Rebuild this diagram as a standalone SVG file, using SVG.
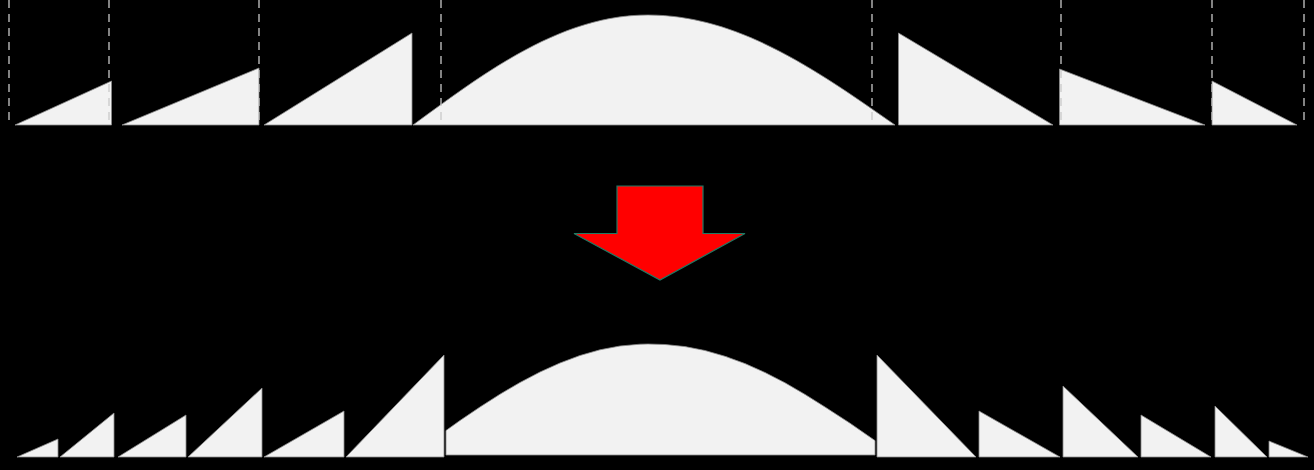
<svg xmlns="http://www.w3.org/2000/svg" width="1314" height="470" viewBox="0 0 1314 470">
  <style>
    .shape { fill: #f2f2f2; stroke: #8a8a8a; stroke-width: 0.8; stroke-linejoin: miter; }
    .guide { fill: none; stroke: #c8c8c8; stroke-width: 1.3; stroke-dasharray: 8 6; }
    .arrow { fill: #ff0000; stroke: #1f7a64; stroke-width: 1.2; stroke-linejoin: miter; }
  </style>
  <rect x="0" y="0" width="1314" height="470" fill="#000000"/>

  <!-- Top row -->
  <g id="top-row">
    <g id="top-t1"><polygon class="shape" points="15,125 111.5,125 111.5,81"/></g>
    <g id="top-t2"><polygon class="shape" points="122,125 259,125 259,68"/></g>
    <g id="top-t3"><polygon class="shape" points="264,125 412,125 412,33"/></g>
    <g id="top-bell"><path class="shape" d="M413,125 C489.6,68.6 563,15 648,15 C737.4,15 814.5,68.6 895,125 Z"/></g>
    <g id="top-t5"><polygon class="shape" points="898.5,125 898.5,33 1053,125"/></g>
    <g id="top-t6"><polygon class="shape" points="1059.5,125 1059.5,69 1205,125"/></g>
    <g id="top-t7"><polygon class="shape" points="1212,125 1212,81 1297,125"/></g>
  </g>

  <!-- Dashed cut guides -->
  <g id="guides">
    <line class="guide" x1="9" y1="0" x2="9" y2="122"/>
    <line class="guide" x1="109" y1="0" x2="109" y2="122"/>
    <line class="guide" x1="259" y1="0" x2="259" y2="122"/>
    <line class="guide" x1="441" y1="0" x2="441" y2="122"/>
    <line class="guide" x1="872" y1="0" x2="872" y2="122"/>
    <line class="guide" x1="1061" y1="0" x2="1061" y2="122"/>
    <line class="guide" x1="1212" y1="0" x2="1212" y2="122"/>
    <line class="guide" x1="1304" y1="0" x2="1304" y2="122"/>
  </g>

  <!-- Block arrow -->
  <g id="connectors">
    <polygon class="arrow" points="617,186 703,186 703,233.5 745,233.5 660,280 574,233.5 617,233.5"/>
  </g>

  <!-- Bottom row -->
  <g id="bottom-row">
    <g id="bot-t1"><polygon class="shape" points="17,457 58,457 58,439"/></g>
    <g id="bot-t2"><polygon class="shape" points="60,457 114,457 114,413"/></g>
    <g id="bot-t3"><polygon class="shape" points="118,457 186,457 186,415"/></g>
    <g id="bot-t4"><polygon class="shape" points="188,457 262,457 262,388"/></g>
    <g id="bot-t5"><polygon class="shape" points="264,457 344,457 344,411"/></g>
    <g id="bot-t6"><polygon class="shape" points="346,457 444,457 444,355"/></g>
    <g id="bot-bell"><polygon class="shape" points="446,455 446,430.5 460,420.5 480,407 500,394.2 520,382.5 540,372 560,363 580,355.5 600,349.8 620,346 640,344.2 648,344 665,344.5 685,346.6 705,350.5 725,356.3 745,363.6 765,372.5 785,382.8 805,394.4 825,407 850,423.2 875,440.6 875,455"/></g>
    <g id="bot-t7"><polygon class="shape" points="877,457 877,355 976,457"/></g>
    <g id="bot-t8"><polygon class="shape" points="979,457 979,411 1060,457"/></g>
    <g id="bot-t9"><polygon class="shape" points="1063,457 1063,386 1138,457"/></g>
    <g id="bot-t10"><polygon class="shape" points="1141,457 1141,415 1211,457"/></g>
    <g id="bot-t11"><polygon class="shape" points="1215,457 1215,406 1267,457"/></g>
    <g id="bot-t12"><polygon class="shape" points="1269,457 1269,441 1308,457"/></g>
  </g>
</svg>
